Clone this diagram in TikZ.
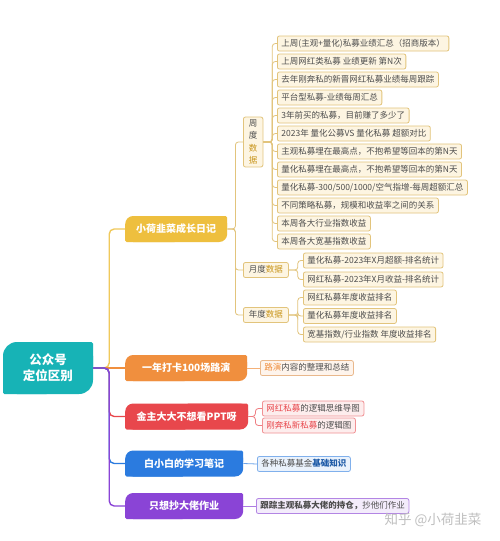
\documentclass[tikz,border=0pt]{standalone}
\usepackage{fontspec}
\setmainfont{Noto Sans CJK SC}
\usetikzlibrary{positioning}

\definecolor{rootteal}{HTML}{17B3B6}
\definecolor{diaryyellow}{HTML}{EEBF3E}
\definecolor{roadorange}{HTML}{F08F3E}
\definecolor{pptred}{HTML}{E8474C}
\definecolor{noteblue}{HTML}{2B7BDF}
\definecolor{copypurple}{HTML}{8A44D6}
\definecolor{leafgold}{HTML}{E2C47C}
\definecolor{leafcream}{HTML}{FDF5E2}
\definecolor{inkgray}{HTML}{4D4D4D}
\definecolor{datagold}{HTML}{C8951C}

\tikzset{
  branch/.style 2 args={fill=white, text=white, anchor=west,
    font=\fontsize{10}{12}\selectfont\bfseries,
    minimum height=26pt, inner xsep=11pt,
    path picture={
      \fill[#1, rounded corners=#2] (path picture bounding box.south west) rectangle (path picture bounding box.north east);
      \fill[#1, rounded corners=1.5pt] (path picture bounding box.north) rectangle (path picture bounding box.east);
      \fill[#1, rounded corners=1.5pt] (path picture bounding box.west) rectangle (path picture bounding box.south);
    }},
  leafbase/.style={draw=leafgold, fill=leafcream, line width=0.8pt, rounded corners=2pt,
    text=inkgray, font=\fontsize{8.5}{10}\selectfont, anchor=west},
  leaf/.style={leafbase, minimum height=15pt, inner xsep=4pt, inner ysep=0pt,
    text height=6.8pt, text depth=1.7pt},
  twig/.style={line width=0.8pt, rounded corners=3pt},
  trunk/.style={line width=1.4pt, rounded corners=5pt}
}

\begin{document}
\begin{tikzpicture}[x=1pt, y=-1pt]
  \useasboundingbox[fill=white] (0,0) rectangle (500,541);

  % centre topic
  \node[branch={rootteal}{14pt}, anchor=center, align=center,
    font=\fontsize{12.5}{16}\selectfont\bfseries,
    minimum width=90pt, minimum height=52pt] (root) at (48,368) {公众号\\定位区别};

  % main branches
  \node[branch={diaryyellow}{8pt}] (diary) at (125,229) {小荷韭菜成长日记};
  \node[branch={roadorange}{8pt}, minimum width=122pt] (road) at (125,368) {一年打卡100场路演};
  \node[branch={pptred}{8pt}, minimum width=123pt] (ppt) at (125,416.5) {金主大大不想看PPT呀};
  \node[branch={noteblue}{8pt}, minimum width=118pt] (note) at (125,463.5) {白小白的学习笔记};
  \node[branch={copypurple}{8pt}, minimum width=118pt] (copy) at (125,506) {只想抄大佬作业};

  % weekly / monthly / yearly
  \node[leafbase, align=center, font=\fontsize{8.5}{12.5}\selectfont,
    inner xsep=5.5pt, inner ysep=2.5pt] (week) at (243,142)
    {周\\度\\{\color{datagold}数}\\{\color{datagold}据}};
  \node[leaf, inner xsep=5.5pt] (month) at (243,270) {月度{\color{datagold}数据}};
  \node[leaf, inner xsep=5.5pt] (year) at (243,315) {年度{\color{datagold}数据}};

  \foreach \txt [count=\i] in {
      {上周(主观+量化)私募业绩汇总（招商版本）},
      {上周网红类私募 业绩更新 第N次},
      {去年刚奔私的新晋网红私募业绩每周跟踪},
      {平台型私募-业绩每周汇总},
      {3年前买的私募，目前赚了多少了},
      {2023年 量化公募VS 量化私募 超额对比},
      {主观私募埋在最高点，不抱希望等回本的第N天},
      {量化私募埋在最高点，不抱希望等回本的第N天},
      {量化私募-300/500/1000/空气指增-每周超额汇总},
      {不同策略私募，规模和收益率之间的关系},
      {本周各大行业指数收益},
      {本周各大宽基指数收益}}
    \node[leaf] (w\i) at (277, 25.5+18*\i) {\txt};

  \node[leaf] (m1) at (303,260.5) {量化私募-2023年X月超额-排名统计};
  \node[leaf] (m2) at (303,279.5) {网红私募-2023年X月收益-排名统计};
  \node[leaf] (y1) at (303,297.5) {网红私募年度收益排名};
  \node[leaf] (y2) at (303,316) {量化私募年度收益排名};
  \node[leaf] (y3) at (303,334.5) {宽基指数/行业指数 年度收益排名};

  % leaves of the other branches
  \node[leaf, draw=roadorange!55!brown!60, fill=roadorange!10] (roadleaf) at (260,368)
    {{\color{roadorange}路演}内容的整理和总结};
  \node[leaf, draw=pptred!60, fill=pptred!10] (ppt1) at (262,408.5)
    {{\color{pptred}网红私募}的逻辑思维导图};
  \node[leaf, draw=pptred!60, fill=pptred!10] (ppt2) at (262,425.5)
    {{\color{pptred}刚奔私新私募}的逻辑图};
  \node[leaf, draw=noteblue!60, fill=noteblue!10] (noteleaf) at (257,464)
    {各种私募基金{\color{noteblue!75!black}\bfseries 基础知识}};
  \node[leaf, draw=copypurple!65, fill=copypurple!10] (copyleaf) at (256,506)
    {{\bfseries 跟踪主观私募大佬的持仓，}抄他们作业};

  % watermark
  \node[text=gray!50, font=\fontsize{13.5}{16}\selectfont] (mark) at (433,520) {知乎 @小荷韭菜};

  % connectors
  \draw[twig, leafgold] (diary.east) -- ++(8,0) |- (week.west);
  \draw[twig, leafgold] (diary.east) -- ++(8,0) |- (month.west);
  \draw[twig, leafgold] (diary.east) -- ++(8,0) |- (year.west);
  \foreach \i in {1,...,12}
    \draw[twig, leafgold] (week.east) -- ++(9,0) |- (w\i.west);
  \foreach \i in {1,2}
    \draw[twig, leafgold] (month.east) -- ++(9,0) |- (m\i.west);
  \foreach \i in {1,2,3}
    \draw[twig, leafgold] (year.east) -- ++(9,0) |- (y\i.west);
  \draw[twig, roadorange!70] (road.east) -- (roadleaf.west);
  \draw[twig, pptred!70] (ppt.east) -- ++(7,0) |- (ppt1.west);
  \draw[twig, pptred!70] (ppt.east) -- ++(7,0) |- (ppt2.west);
  \draw[twig, noteblue!70] (note.east) -- (noteleaf.west);
  \draw[twig, copypurple!70] (copy.east) -- (copyleaf.west);

  \draw[trunk, diaryyellow!85] (root.east) -- ++(16,0) |- (diary.west);
  \draw[trunk, roadorange] (root.east) -- (road.west);
  \draw[trunk, pptred] (root.east) -- ++(16,0) |- (ppt.west);
  \draw[trunk, noteblue] (root.east) -- ++(16,0) |- (note.west);
  \draw[trunk, copypurple] (root.east) -- ++(16,0) |- (copy.west);
\end{tikzpicture}
\end{document}
